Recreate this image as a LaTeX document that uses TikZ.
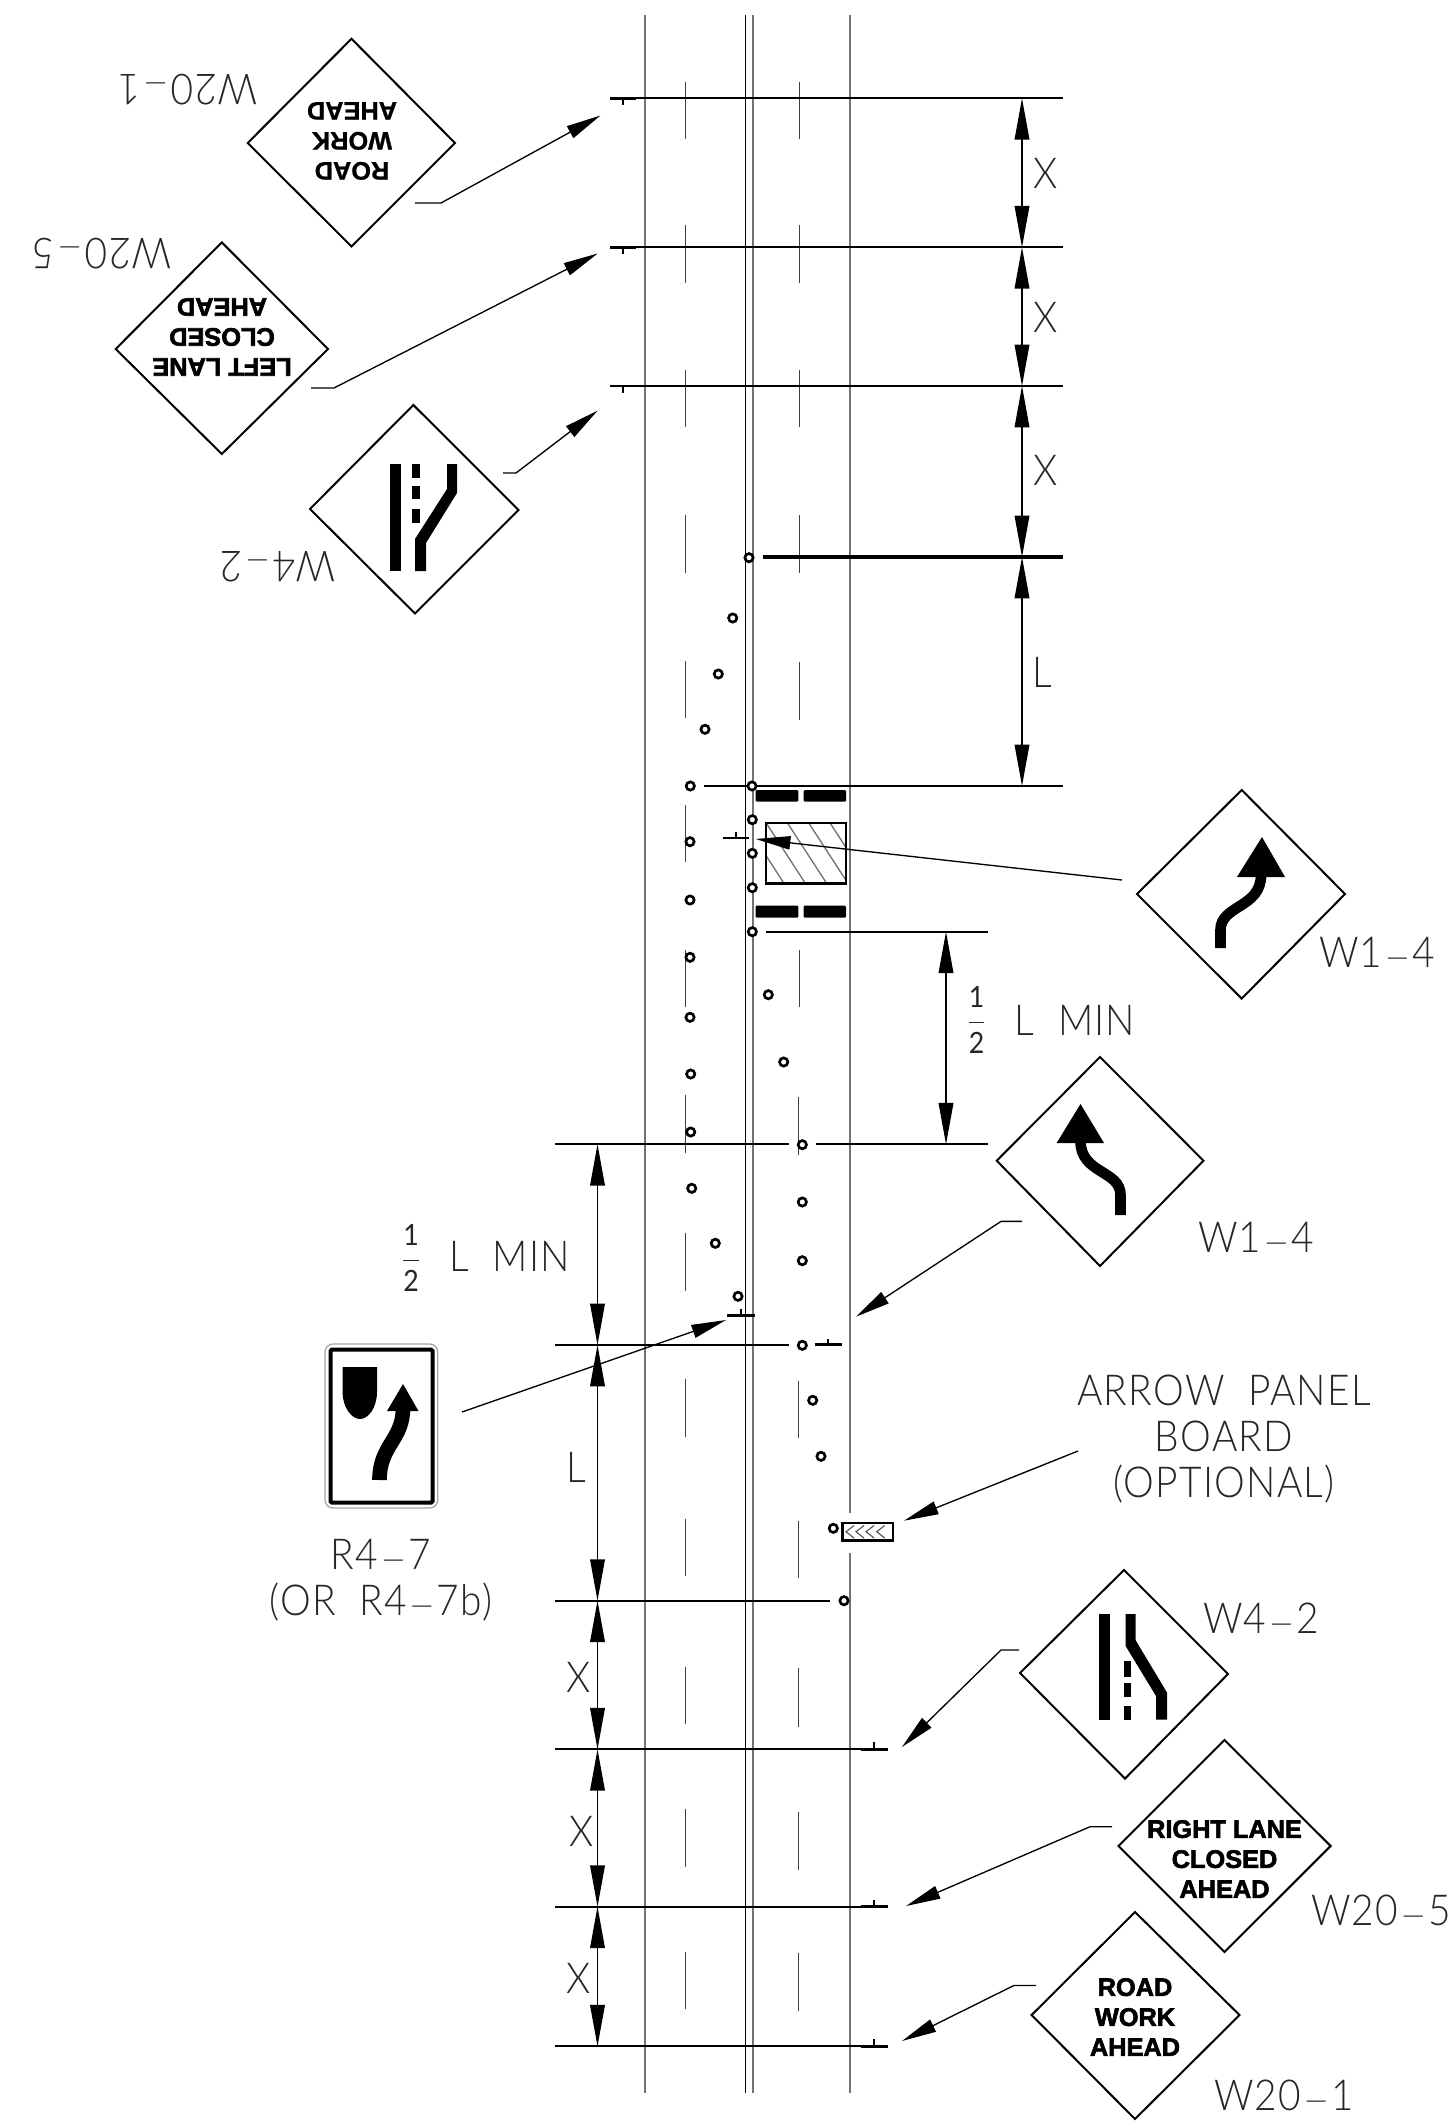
\documentclass[tikz,border=0pt]{standalone}
\usepackage{fontspec}
\usepackage{graphicx}
\usetikzlibrary{arrows.meta}
\newfontfamily\cad{Lato Light}[LetterSpace=3,FakeStretch=0.91]
\newfontfamily\cadreg{Lato}[FakeStretch=0.91]
\newfontfamily\signa{Liberation Sans}[BoldFeatures={FakeBold=1}]
\newfontfamily\signb{Liberation Sans}[BoldFeatures={FakeBold=2.5}]
\newcommand{\hy}{\scalebox{2.1}[0.7]{-}}
\newcommand{\cadhalf}{$\displaystyle\frac{\mbox{\cadreg\fontsize{22}{22}\selectfont 1}}{\mbox{\cadreg\fontsize{22}{22}\selectfont 2}}$}
\tikzset{
  x=.75pt,y=-.75pt,
  roadedge/.style={draw=black!55,line width=1.6pt},
  roadcl/.style={draw=black,line width=1pt},
  lanedash/.style={draw=black!75,line width=.9pt},
  dimline/.style={draw=black,line width=1.35pt},
  dimarrow/.style={draw=black,line width=1pt,{Triangle[length=31pt,width=11pt]}-{Triangle[length=31pt,width=11pt]}},
  leader/.style={draw=black,line width=1pt,-{Triangle[length=26pt,width=10pt]}},
  signbox/.style={draw=black,line width=1.5pt,line join=miter},
  signtick/.style={draw=black,line width=2pt},
  conering/.style={circle,draw=black,line width=2pt,minimum size=6.2pt,inner sep=0pt,fill=white},
  cadt/.style={inner sep=0pt,font=\cad\fontsize{32}{34.5}\selectfont,text=black!85,align=center},
  signt/.style={inner sep=0pt,font=\signa\bfseries\fontsize{19}{22.5}\selectfont,align=center},
  signu/.style={inner sep=0pt,font=\signb\bfseries\fontsize{19}{22.5}\selectfont,align=center},
}
\begin{document}
\begin{tikzpicture}
\useasboundingbox (0,0) rectangle (1452,2122);
% road
\draw[roadedge] (645.3,15) -- (645.3,2093);
\draw[roadcl] (745.3,15) -- (745.3,2093);
\draw[roadedge] (753.3,15) -- (753.3,2093);
\draw[roadedge] (850.3,15) -- (850.3,1513);
\draw[roadedge] (850.3,1553) -- (850.3,2093);
% lane dashes
\foreach \a/\b in {82/139,225/283,370/427,515/573,661/718,805/862,950/1007,1095/1153,1233/1291,1379/1437,1519/1576,1667/1724,1809/1867,1952/2009}
  \draw[lanedash] (685.3,\a) -- (685.3,\b);
\foreach \a/\b in {82/139,225/283,370/427,515/573,662/720,950/1007}
  \draw[lanedash] (799.7,\a) -- (799.7,\b);
\foreach \a/\b in {1097/1155,1381/1438,1521/1578,1668/1727,1812/1870,1953/2011}
  \draw[lanedash] (798.3,\a) -- (798.3,\b);
% horizontal station lines
\draw[dimline] (636,98.3) -- (1063,98.3);
\draw[dimline] (636,247.3) -- (1063,247.3);
\draw[dimline] (636,386) -- (1063,386);
\draw[dimline,line width=2.6pt] (763,557) -- (1063,557);
\draw[dimline] (704,786) -- (1063,786);
\draw[dimline] (766,931.7) -- (988,931.7);
\draw[dimline] (555,1144.3) -- (789,1144.3);
\draw[dimline] (816,1144.3) -- (988,1144.3);
\draw[dimline] (555,1345) -- (789,1345);
\draw[dimline] (555,1600.7) -- (830,1600.7);
\draw[dimline] (555,1749.3) -- (861,1749.3);
\draw[dimline] (555,1906.7) -- (861,1906.7);
\draw[dimline] (555,2046.3) -- (861,2046.3);
% sign posts
\foreach \y in {98.3,247.3,386}{
  \draw[signtick] (610,\y) -- (636,\y);
  \draw[signtick,line width=1.5pt] (623,\y) -- (623,\y+7);
}
\foreach \y in {1749.3,1906.7,2046.3}{
  \draw[signtick] (861,\y) -- (887.7,\y);
  \draw[signtick,line width=1.5pt] (874,\y) -- (874,\y-7);
}
\draw[signtick] (723,838) -- (749,838);
\draw[signtick,line width=1.5pt] (736,838) -- (736,831.5);
\draw[signtick] (727,1315.3) -- (755,1315.3);
\draw[signtick,line width=1.5pt] (740.7,1315.3) -- (740.7,1309);
\draw[signtick] (815,1344.7) -- (841.7,1344.7);
\draw[signtick,line width=1.5pt] (828,1344.7) -- (828,1339);
% dimension arrows
\coordinate (r1) at (1022,98.3);
\coordinate (r2) at (1022,247.3);
\coordinate (r3) at (1022,386);
\coordinate (r4) at (1022,557);
\coordinate (r5) at (1022,786);
\coordinate (m1) at (946,931.7);
\coordinate (m2) at (946,1144.3);
\coordinate (l1) at (597.5,1144.3);
\coordinate (l2) at (597.5,1345);
\coordinate (l3) at (597.5,1600.7);
\coordinate (l4) at (597.5,1749.3);
\coordinate (l5) at (597.5,1906.7);
\coordinate (l6) at (597.5,2046.3);
\draw[dimarrow] (r1) -- (r2);
\draw[dimarrow] (r2) -- (r3);
\draw[dimarrow] (r3) -- (r4);
\draw[dimarrow] (r4) -- (r5);
\draw[dimarrow] (m1) -- (m2);
\draw[dimarrow] (l1) -- (l2);
\draw[dimarrow] (l2) -- (l3);
\draw[dimarrow] (l3) -- (l4);
\draw[dimarrow] (l4) -- (l5);
\draw[dimarrow] (l5) -- (l6);
% work area
\begin{scope}
  \clip (766,822.7) rectangle (846,883.3);
  \foreach \k in {-3,...,3}
    \draw[black!55,line width=1pt] (766+\k*21.3,822.7) -- (805.3+\k*21.3,883.3);
\end{scope}
\draw[black,line width=1.8pt] (766,822.7) rectangle (846,883.3);
\fill[black,rounded corners=.8pt] (755.7,790) rectangle (798.3,801.7);
\fill[black,rounded corners=.8pt] (803.7,790) rectangle (846,801.7);
\fill[black,rounded corners=.8pt] (755.7,905.7) rectangle (798.3,917.7);
\fill[black,rounded corners=.8pt] (803.7,905.7) rectangle (846,917.7);
% arrow panel
\foreach \c in {846,856,866,876.7}
  \draw[black!70,line width=.8pt] (\c+8,1525.5) -- (\c,1531.7) -- (\c+8,1538);
\draw[black,line width=2pt] (842.5,1523) rectangle (893,1540.5);
% cones
\foreach \p [count=\i] in {(749,557.7),(732.7,618),(718.3,674),(705,729.3),(690.3,786),(752,786),(752.3,819.7),(752.3,853.3),(752.3,887.7),(752.3,931.7),(690,841.7),(690,900),(690,957.3),(768.3,994.7),(690,1017.3),(783.7,1062),(690.7,1074),(690.7,1132),(802.3,1144.7),(691.7,1188.3),(802.3,1202),(802.3,1260.7),(715.3,1243.3),(738,1296.3),(802.3,1345.3),(812.7,1400.3),(821,1456.3),(833.3,1528.3),(844,1600.7)}
  \node[conering] (cone\i) at \p {};
% diamonds
\draw[signbox] (351.5,38.8) -- (455,143) -- (351.5,246.5) -- (247.7,143) -- cycle;
\draw[signbox] (221.8,242.4) -- (328,349) -- (221.8,454) -- (115.7,349) -- cycle;
\draw[signbox] (413.4,405) -- (518.5,510) -- (415,613.5) -- (310,509) -- cycle;
\draw[signbox] (1241.7,790) -- (1345,894) -- (1241.7,998.6) -- (1137,894) -- cycle;
\draw[signbox] (1100,1057) -- (1203.5,1160.7) -- (1100,1266) -- (996.7,1160.7) -- cycle;
\draw[signbox] (1124,1570) -- (1228,1674) -- (1125,1778.6) -- (1020,1673) -- cycle;
\draw[signbox] (1224.5,1740) -- (1330.6,1846) -- (1224.5,1952) -- (1118.5,1846) -- cycle;
\draw[signbox] (1135,1912) -- (1239.5,2015) -- (1135,2119) -- (1031.6,2015) -- cycle;
% sign texts
\node[signt,rotate=180] (s1) at (352,141) {ROAD\\WORK\\AHEAD};
\node[signu,rotate=180] (s2) at (222,337) {LEFT LANE\\CLOSED\\AHEAD};
\node[signu] (s3) at (1224.5,1859) {RIGHT LANE\\CLOSED\\AHEAD};
\node[signu] (s4) at (1135,2017) {ROAD\\WORK\\AHEAD};
% W4-2 symbols
\fill[black] (390,464) rectangle (401,571);
\fill[black] (412,464) rectangle (420,477.5);
\fill[black] (412,486) rectangle (420,499);
\fill[black] (412,509) rectangle (420,523);
\fill[black] (447,464) -- (457,464) -- (457,493) -- (426,543) -- (426,571) -- (415,571) -- (415,539) -- (447,489) -- cycle;
\fill[black] (1099,1614) rectangle (1110,1719.5);
\fill[black] (1123.5,1661) rectangle (1131.4,1676.5);
\fill[black] (1123.5,1682.6) rectangle (1131.4,1697);
\fill[black] (1123.5,1705.5) rectangle (1131.4,1720);
\fill[black] (1125.6,1614) -- (1135.5,1614) -- (1135.5,1640) -- (1167,1692.6) -- (1167,1719.5) -- (1156,1719.5) -- (1156,1696) -- (1125.6,1646) -- cycle;
% W1-4 symbols
\draw[black,line width=8pt] (1220.5,948) -- (1220.5,930) .. controls (1220.5,905) and (1261,908) .. (1261,875);
\fill[black] (1262,837) -- (1285,877) -- (1237,877) -- cycle;
\draw[black,line width=8pt] (1120.5,1215) -- (1120.5,1195) .. controls (1120.5,1170) and (1080.5,1174) .. (1080.5,1141);
\fill[black] (1080.5,1104) -- (1104,1143) -- (1056.6,1143) -- cycle;
% R4-7 sign
\draw[black!35,line width=1pt,rounded corners=6pt] (325,1344) rectangle (437.7,1508);
\draw[black,line width=3pt,rounded corners=1pt] (330.5,1349.5) rectangle (432.5,1502.5);
\fill[black] (342.6,1367) -- (377,1367) -- (377,1392) .. controls (377,1408) and (368,1419) .. (360,1419) .. controls (352,1419) and (342.6,1408) .. (342.6,1392) -- cycle;
\draw[black,line width=11pt] (379.5,1480) .. controls (379.5,1445) and (403,1440) .. (403,1408);
\fill[black] (403,1384) -- (418.5,1411) -- (387,1411) -- cycle;
% leaders
\coordinate (a1) at (415,203); \coordinate (a1b) at (441,203); \coordinate (a1t) at (600.5,115.5);
\coordinate (a2) at (311,388); \coordinate (a2b) at (334,388); \coordinate (a2t) at (597.7,253.5);
\coordinate (a3) at (503,473); \coordinate (a3b) at (516,473); \coordinate (a3t) at (597.7,410.6);
\coordinate (a4) at (1122,880); \coordinate (a4t) at (755.7,839);
\coordinate (a5) at (1022,1221.4); \coordinate (a5b) at (1001,1221.4); \coordinate (a5t) at (856,1316.7);
\coordinate (a6) at (462,1412); \coordinate (a6t) at (726,1320);
\coordinate (a7) at (1078,1451); \coordinate (a7t) at (904,1520.7);
\coordinate (a8) at (1019,1650); \coordinate (a8b) at (1001,1650); \coordinate (a8t) at (902,1747);
\coordinate (a9) at (1112,1826.7); \coordinate (a9b) at (1090,1826.7); \coordinate (a9t) at (906,1906);
\coordinate (a10) at (1036,1985.4); \coordinate (a10b) at (1014,1985.4); \coordinate (a10t) at (902,2041);
\draw[leader] (a1) -- (a1b) -- (a1t);
\draw[leader] (a2) -- (a2b) -- (a2t);
\draw[leader] (a3) -- (a3b) -- (a3t);
\draw[leader] (a4) -- (a4t);
\draw[leader] (a5) -- (a5b) -- (a5t);
\draw[leader] (a6) -- (a6t);
\draw[leader] (a7) -- (a7t);
\draw[leader] (a8) -- (a8b) -- (a8t);
\draw[leader] (a9) -- (a9b) -- (a9t);
\draw[leader] (a10) -- (a10b) -- (a10t);
% labels
\node[cadt,rotate=180] (t1) at (188,90) {W20\hy1};
\node[cadt,rotate=180] (t2) at (102,254) {W20\hy5};
\node[cadt,rotate=180] (t3) at (278,567) {W4\hy2};
\node[cadt] (t4) at (1377,952) {W1\hy4};
\node[cadt] (t5) at (1256,1237) {W1\hy4};
\node[cadt] (t6) at (1261,1618) {W4\hy2};
\node[cadt] (t7) at (1381,1910) {W20\hy5};
\node[cadt] (t8) at (1284,2095) {W20\hy1};
\node[cadt] (t9) at (1224,1439) {ARROW\ \ PANEL\\BOARD\\(OPTIONAL)};
\node[cadt] (t10) at (381,1580) {R4\hy7\\(OR\ \ R4\hy7b)};
\node[cadt] (x1) at (1046,173) {X};
\node[cadt] (x2) at (1046,317) {X};
\node[cadt] (x3) at (1046,470) {X};
\node[cadt] (x4) at (1042,672) {L};
\node[cadt] (x5) at (576.5,1467) {L};
\node[cadt] (x6) at (579,1677) {X};
\node[cadt] (x7) at (582,1831) {X};
\node[cadt] (x8) at (579,1978) {X};
\node[cadt] (f1) at (976.5,1020) {\cadhalf};
\node[cadt] (f2) at (1075,1020) {L\ \ MIN};
\node[cadt] (f3) at (411,1258) {\cadhalf};
\node[cadt] (f4) at (509.5,1256) {L\ \ MIN};
\end{tikzpicture}
\end{document}
